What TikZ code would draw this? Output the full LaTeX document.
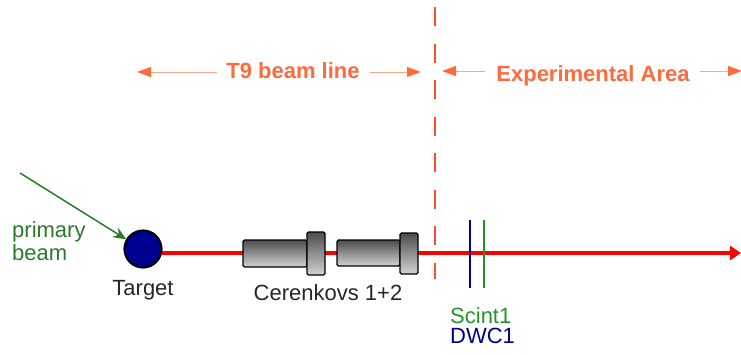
\documentclass[tikz,border=0pt]{standalone}
\usepackage{fontspec}
\setmainfont{Liberation Sans}
\usetikzlibrary{arrows.meta}
\definecolor{orng}{HTML}{FF6A3D}
\definecolor{orngl}{HTML}{FFA58A}
\definecolor{dashc}{HTML}{FF4D26}
\definecolor{gbeam}{HTML}{2A7A2A}
\definecolor{navy}{HTML}{000090}
\definecolor{beamred}{HTML}{FF0000}
\tikzset{
  lbl/.style={font=\fontsize{22}{26}\selectfont, inner sep=0pt, anchor=base},
  toplbl/.style={font=\fontsize{22}{26}\selectfont\bfseries, text=orng, inner sep=0pt, anchor=base},
  dimarrow/.style={draw=orngl, line width=0.9pt, -{Triangle[length=14pt,width=10pt,fill=orng,color=orng]}},
  cerbody/.style={draw=black, line width=1.3pt, rounded corners=1.5pt, top color=gray!60!black, bottom color=gray!35},
}
\begin{document}
\begin{tikzpicture}[x=1pt,y=-1pt]
\useasboundingbox (0,0) rectangle (741,354);
% dashed boundary
\draw[dashc, line width=2pt, dash pattern=on 19pt off 17.5pt] (435,7) -- (435,279);
% top labels
\node[toplbl] (t9) at (293,78) {T9 beam line};
\node[toplbl] (ea) at (593,81) {Experimental Area};
\coordinate (t9l) at (137,72);
\coordinate (t9r) at (421,72);
\coordinate (eal) at (442,71);
\coordinate (ear) at (742,71);
\draw[dimarrow] (217,72) -- (t9l);
\draw[dimarrow] (370,72) -- (t9r);
\draw[dimarrow] (485,71) -- (eal);
\draw[dimarrow] (700,71) -- (ear);
% beam
\node[circle, draw=black, line width=1.8pt, fill=navy, minimum size=37pt, inner sep=0pt] (tgt) at (143,249) {};
\coordinate (bend) at (741,253);
\draw[beamred, line width=4pt, -{Triangle[length=11pt,width=14pt]}] (tgt.east |- 0,253) -- (bend);
\node[circle, draw=black, line width=1.8pt, fill=navy, minimum size=37pt, inner sep=0pt] at (143,249) {};
% cerenkovs
\node[cerbody, minimum width=64pt, minimum height=27pt, inner sep=0pt] (c1) at (275,253.5) {};
\node[cerbody, minimum width=18pt, minimum height=43pt, inner sep=0pt] (c1c) at (316,253.5) {};
\node[cerbody, minimum width=63pt, minimum height=26pt, inner sep=0pt] (c2) at (368.5,253) {};
\node[cerbody, minimum width=18pt, minimum height=41pt, inner sep=0pt] (c2c) at (409,253.5) {};
% detectors
\draw[navy, line width=2pt] (470,220) -- (470,288);
\draw[gbeam!80!green, line width=2pt] (484,220) -- (484,288);
% primary beam
\coordinate (pb) at (20,173);
\draw[gbeam, line width=1.5pt, -{Stealth[length=13pt,width=11pt]}] (pb) -- (tgt.150);
\node[lbl, text=gbeam, anchor=base west] (prim) at (12,237) {primary};
\node[lbl, text=gbeam, anchor=base west] (beam) at (12,260) {beam};
% labels
\node[lbl, text=black!85] (tl) at (143,295) {Target};
\node[lbl, text=black!85] (cl) at (328,300) {Cerenkovs 1+2};
\node[lbl, text=gbeam!80!green, anchor=base west] (sc) at (450,323) {Scint1};
\node[lbl, text=navy, anchor=base west] (dw) at (450,343) {DWC1};
\end{tikzpicture}
\end{document}
